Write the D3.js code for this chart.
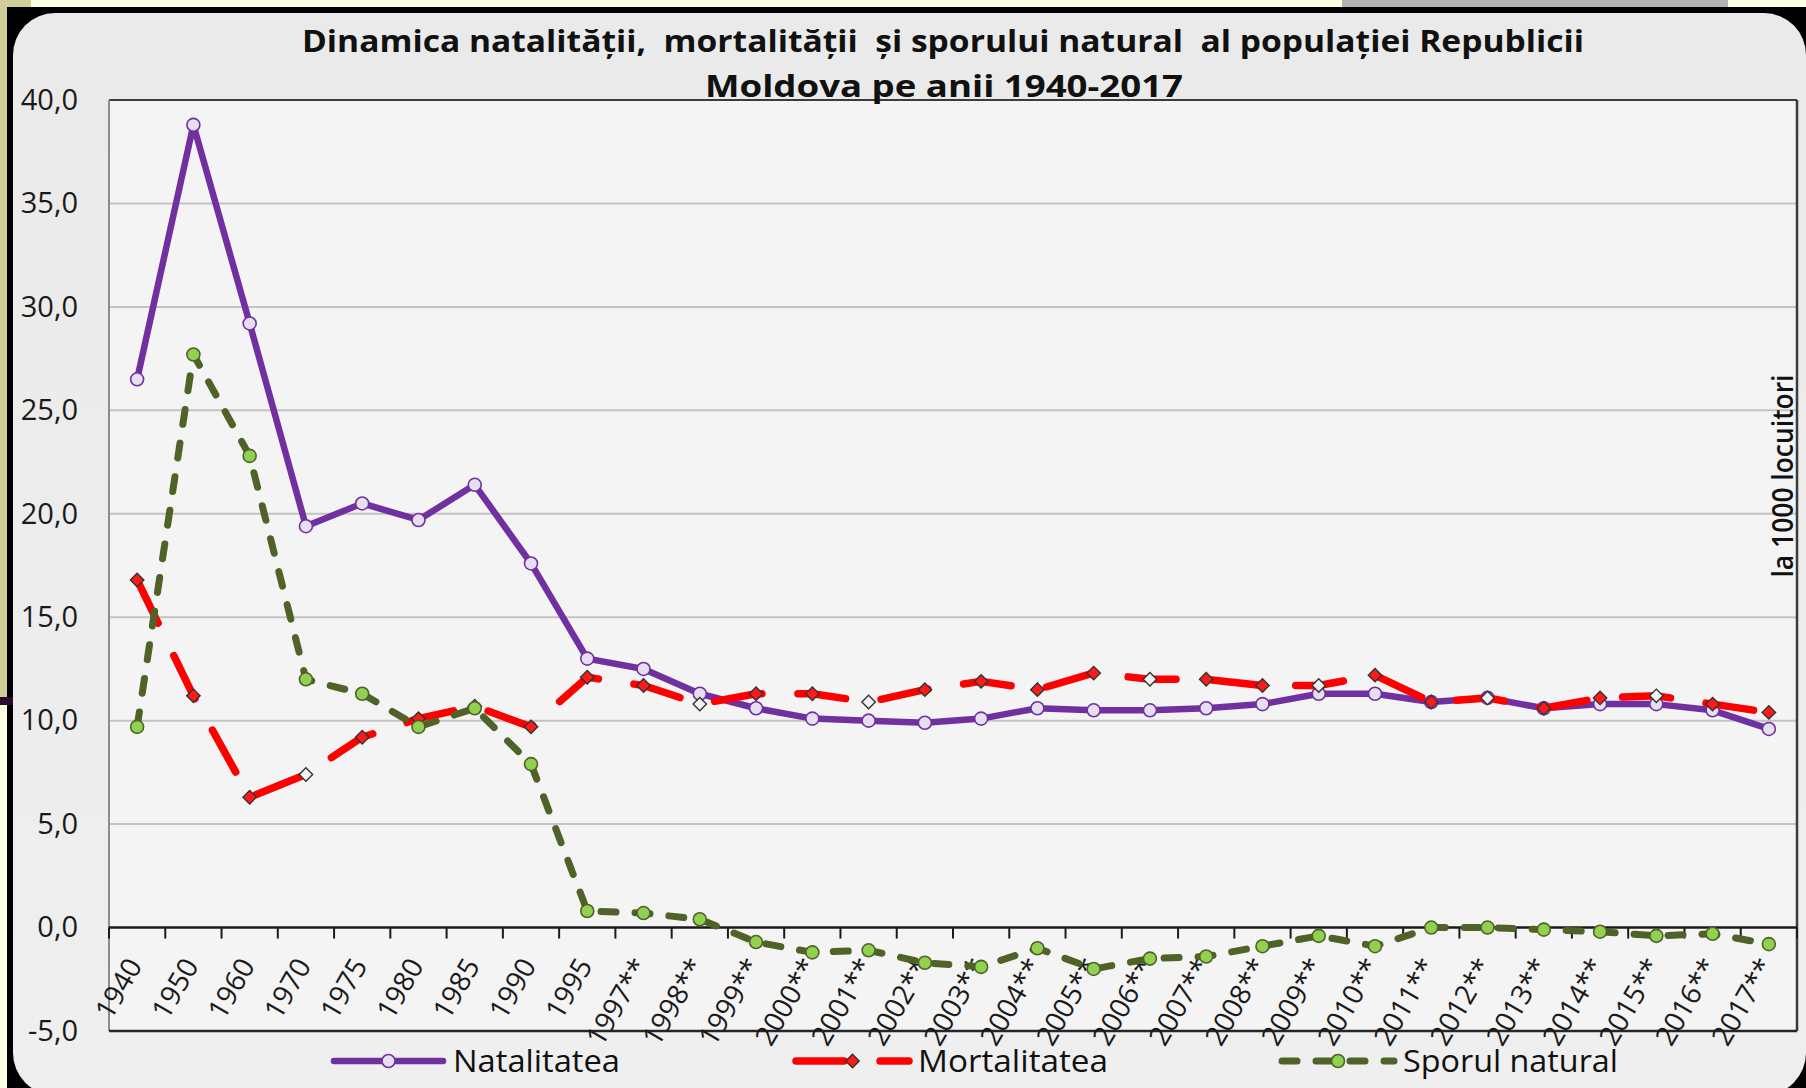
<!DOCTYPE html>
<html lang="ro">
<head>
<meta charset="utf-8">
<title>Dinamica natalității, mortalității și sporului natural</title>
<script src="https://d3js.org/d3.v7.min.js"></script>
<style>
body { margin: 0; background: #FFFFE1; }
svg { display: block; font-family: "Open Sans", "DejaVu Sans", sans-serif; }
</style>
</head>
<body>
<svg width="1806" height="1088"></svg>
<script>

// data (per 1000 inhabitants)
var years = ["1940", "1950", "1960", "1970", "1975", "1980", "1985", "1990", "1995",
  "1997**", "1998**", "1999**", "2000**", "2001**", "2002**", "2003**", "2004**", "2005**",
  "2006**", "2007**", "2008**", "2009**", "2010**", "2011**", "2012**", "2013**", "2014**",
  "2015**", "2016**", "2017**"];

var natalitatea = [26.5, 38.8, 29.2, 19.4, 20.5, 19.7, 21.4, 17.6, 13.0,
  12.5, 11.3, 10.6, 10.1, 10.0, 9.9, 10.1, 10.6, 10.5,
  10.5, 10.6, 10.8, 11.3, 11.3, 10.9, 11.1, 10.6, 10.8,
  10.8, 10.5, 9.6];

var mortalitatea = [16.8, 11.2, 6.3, 7.4, 9.2, 10.1, 10.7, 9.7, 12.1,
  11.7, 10.8, 11.3, 11.3, 10.9, 11.5, 11.9, 11.5, 12.3,
  12.0, 12.0, 11.7, 11.7, 12.2, 10.9, 11.1, 10.6, 11.1,
  11.2, 10.8, 10.4];

var sporul = [9.7, 27.7, 22.8, 12.0, 11.3, 9.7, 10.6, 7.9, 0.8,
  0.7, 0.4, -0.7, -1.2, -1.1, -1.7, -1.9, -1.0, -2.0,
  -1.5, -1.4, -0.9, -0.4, -0.9, 0.0, 0.0, -0.1, -0.2,
  -0.4, -0.3, -0.8];

// diamonds that show up white in the picture
var hollowMort = ["1970", "1985", "1998**", "2001**", "2006**", "2009**", "2012**", "2015**"];

var yTicks = [-5, 0, 5, 10, 15, 20, 25, 30, 35, 40];
var seriesNames = ["Natalitatea", "Mortalitatea", "Sporul natural"];
var titleLines = ["Dinamica natalității,  mortalității  și sporului natural  al populației Republicii",
  "Moldova pe anii 1940-2017"];
var unitLabel = "la 1000 locuitori";

var svg = d3.select("svg");

// --- slide leftovers around the chart ---
svg.append("rect").attr("width", 1806).attr("height", 1088).attr("fill", "#FFFFE1");
svg.append("rect").attr("x", 0).attr("y", 0).attr("width", 31).attr("height", 7).attr("fill", "#D0CD98");
svg.append("rect").attr("x", 0).attr("y", 0).attr("width", 8).attr("height", 697).attr("fill", "#D0CD98");
svg.append("rect").attr("x", 1342).attr("y", 0).attr("width", 386).attr("height", 7).attr("fill", "#B3B3B3");
svg.append("rect").attr("x", 7).attr("y", 7).attr("width", 1799).attr("height", 1081).attr("fill", "#000");
svg.append("rect").attr("x", 0).attr("y", 697).attr("width", 13).attr("height", 8).attr("fill", "#2B0A2C");

var defs = svg.append("defs");
var grad = defs.append("linearGradient").attr("id", "bg").attr("x1", 0).attr("y1", 0).attr("x2", 0).attr("y2", 1);
grad.append("stop").attr("offset", "0%").attr("stop-color", "#EAEAEA");
grad.append("stop").attr("offset", "100%").attr("stop-color", "#EFEFEF");

svg.append("rect")
    .attr("x", 13).attr("y", 13)
    .attr("width", 1793).attr("height", 1082)
    .attr("rx", 42)
    .attr("fill", "url(#bg)");

// --- plot area ---
var plot = {left: 109, top: 100, right: 1797, bottom: 1031};

var x = d3.scaleBand().domain(years).range([plot.left, plot.right]);
var y = d3.scaleLinear().domain([-5, 40]).range([plot.bottom, plot.top]);
var cx = d => x(d) + x.bandwidth() / 2;

svg.append("rect")
    .attr("x", plot.left).attr("y", plot.top)
    .attr("width", plot.right - plot.left).attr("height", plot.bottom - plot.top)
    .attr("fill", "#F4F4F4");

// gridlines
svg.append("g")
  .selectAll("line")
  .data(yTicks.filter(v => v > 0 && v < 40))
  .join("line")
    .attr("x1", plot.left).attr("x2", plot.right)
    .attr("y1", d => y(d)).attr("y2", d => y(d))
    .attr("stroke", "#C3C3C3")
    .attr("stroke-width", 2);

// borders
svg.append("line").attr("x1", plot.left).attr("x2", plot.right).attr("y1", plot.top).attr("y2", plot.top)
    .attr("stroke", "#3C3C3C").attr("stroke-width", 2);
svg.append("line").attr("x1", plot.right).attr("x2", plot.right).attr("y1", plot.top).attr("y2", plot.bottom)
    .attr("stroke", "#3C3C3C").attr("stroke-width", 2.5);
svg.append("line").attr("x1", plot.left).attr("x2", plot.left).attr("y1", plot.top).attr("y2", plot.bottom)
    .attr("stroke", "#8C8C8C").attr("stroke-width", 2);
svg.append("line").attr("x1", plot.left).attr("x2", plot.right).attr("y1", plot.bottom).attr("y2", plot.bottom)
    .attr("stroke", "#262626").attr("stroke-width", 2.5);

// y axis labels
var fmt = d3.format(".1f");
var yAxis = svg.append("g")
    .attr("transform", `translate(${plot.left},0)`)
    .call(d3.axisLeft(y).tickValues(yTicks).tickSize(0).tickPadding(31)
      .tickFormat(d => fmt(d).replace(".", ",").replace("\u2212", "-")));
yAxis.select(".domain").remove();
yAxis.selectAll("text")
    .attr("font-family", "\"Open Sans\", sans-serif")
    .attr("font-size", 29)
    .attr("fill", "#1A1A1A");

// x axis at zero
var y0 = y(0);
svg.append("line").attr("x1", plot.left).attr("x2", plot.right).attr("y1", y0).attr("y2", y0)
    .attr("stroke", "#1A1A1A").attr("stroke-width", 2.5);

svg.append("g")
  .selectAll("line")
  .data(years.map(d => x(d)).concat([plot.right]))
  .join("line")
    .attr("x1", d => d).attr("x2", d => d)
    .attr("y1", y0).attr("y2", y0 + 11)
    .attr("stroke", "#1A1A1A")
    .attr("stroke-width", 2);

svg.append("g")
  .selectAll("text")
  .data(years)
  .join("text")
    .attr("transform", d => `translate(${cx(d) + 6},${y0 + 38}) rotate(-60)`)
    .attr("text-anchor", "end")
    .attr("font-size", 28)
    .attr("fill", "#1A1A1A")
    .text(d => d);

// --- series ---
var series = [
  {name: seriesNames[0], values: natalitatea, color: "#7030A0", width: 6.5, dash: null,
   marker: "circle", fill: "#E6DFF0", mstroke: "#7030A0"},
  {name: seriesNames[1], values: mortalitatea, color: "#FF0000", width: 7.5, dash: "48,36",
   marker: "diamond", fill: "#FF1A1A", mstroke: "#333333"},
  {name: seriesNames[2], values: sporul, color: "#4F6228", width: 7, dash: "15,19",
   marker: "circle", fill: "#92D050", mstroke: "#4F6228"}
];

var line = d3.line()
    .x((d, i) => cx(years[i]))
    .y(d => y(d));

var diamond = d3.symbol(d3.symbolSquare, 90);

function drawMarker(sel, s, px, py, hollow) {
  if (s.marker === "circle") {
    sel.append("circle")
        .attr("cx", px).attr("cy", py).attr("r", 6.5)
        .attr("fill", s.fill)
        .attr("stroke", s.mstroke)
        .attr("stroke-width", 1.6);
  } else {
    sel.append("path")
        .attr("d", diamond())
        .attr("transform", `translate(${px},${py}) rotate(45)`)
        .attr("fill", hollow ? "#F2F2F2" : s.fill)
        .attr("stroke", s.mstroke)
        .attr("stroke-width", 1.4);
  }
}

series.forEach(function(s) {
  var g = svg.append("g");
  g.append("path")
      .datum(s.values)
      .attr("fill", "none")
      .attr("stroke", s.color)
      .attr("stroke-width", s.width)
      .attr("stroke-linecap", "round")
      .attr("stroke-linejoin", "round")
      .attr("stroke-dasharray", s.dash)
      .attr("d", line);
  s.values.forEach(function(v, i) {
    var hollow = s.marker === "diamond" && hollowMort.indexOf(years[i]) >= 0;
    drawMarker(g, s, cx(years[i]), y(v), hollow);
  });
});

// --- title ---
svg.append("text")
    .attr("x", 943).attr("y", 52)
    .attr("text-anchor", "middle")
    .attr("font-weight", "bold")
    .attr("font-size", 31)
    .attr("fill", "#111")
    .attr("textLength", 1282)
    .attr("lengthAdjust", "spacingAndGlyphs")
    .style("white-space", "pre")
    .text(titleLines[0]);

svg.append("text")
    .attr("x", 944).attr("y", 97)
    .attr("text-anchor", "middle")
    .attr("font-weight", "bold")
    .attr("font-size", 31)
    .attr("fill", "#111")
    .attr("textLength", 478)
    .attr("lengthAdjust", "spacingAndGlyphs")
    .text(titleLines[1]);

// unit label on the right
svg.append("text")
    .attr("transform", "translate(1793,476) rotate(-90)")
    .attr("text-anchor", "middle")
    .attr("font-size", 29)
    .attr("font-weight", 600)
    .attr("fill", "#111")
    .attr("textLength", 203)
    .attr("lengthAdjust", "spacingAndGlyphs")
    .text(unitLabel);

// --- legend ---
var legendY = 1061;
var legendItems = [
  {x0: 334, x1: 443, tx: 453, tw: 167},
  {x0: 796, x1: 909, tx: 918, tw: 190},
  {x0: 1282, x1: 1394, tx: 1403, tw: 215}
];

series.forEach(function(s, i) {
  var it = legendItems[i];
  var g = svg.append("g");
  g.append("line")
      .attr("x1", it.x0).attr("x2", it.x1)
      .attr("y1", legendY).attr("y2", legendY)
      .attr("stroke", s.color)
      .attr("stroke-width", s.width)
      .attr("stroke-linecap", "round")
      .attr("stroke-dasharray", s.dash);
  drawMarker(g, s, (it.x0 + it.x1) / 2, legendY, false);
  g.append("text")
      .attr("x", it.tx).attr("y", legendY)
      .attr("dy", "0.36em")
      .attr("font-size", 31)
      .attr("fill", "#111")
      .attr("textLength", it.tw)
      .attr("lengthAdjust", "spacingAndGlyphs")
      .text(s.name);
});

</script>
</body>
</html>
